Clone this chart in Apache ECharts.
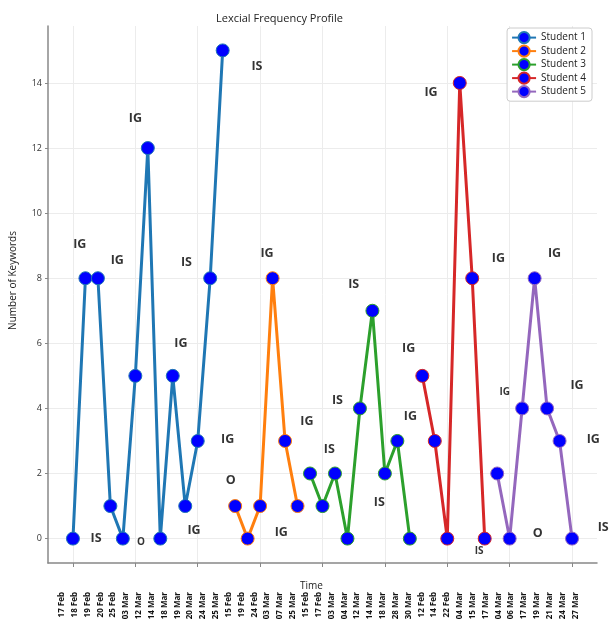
<!DOCTYPE html>
<html>
<head>
<meta charset="utf-8">
<script src="https://cdn.jsdelivr.net/npm/echarts@6/dist/echarts.min.js"></script>
<style>html,body{margin:0;padding:0;background:#fff}#c{width:609px;height:623px}</style>
</head>
<body>
<div id="c"></div>
<script>
// ---- data ----
const dateLabels = [
  '17 Feb','18 Feb','19 Feb','20 Feb','25 Feb','03 Mar','12 Mar','14 Mar','18 Mar','19 Mar','20 Mar','24 Mar','25 Mar',
  '15 Feb','19 Feb','24 Feb','03 Mar','07 Mar','25 Mar',
  '15 Feb','17 Feb','03 Mar','04 Mar','12 Mar','14 Mar','18 Mar','28 Mar','30 Mar',
  '12 Feb','14 Feb','22 Feb','04 Mar','15 Mar','17 Mar',
  '04 Mar','06 Mar','17 Mar','19 Mar','21 Mar','24 Mar','27 Mar'
];
const studentNames = ['Student 1','Student 2','Student 3','Student 4','Student 5'];
const student1 = [0, 8, 8, 1, 0, 5, 12, 0, 5, 1, 3, 8, 15];
const student2 = [1, 0, 1, 8, 3, 1];
const student3 = [2, 1, 2, 0, 4, 7, 2, 3, 0];
const student4 = [5, 3, 0, 14, 8, 0];
const student5 = [2, 0, 4, 8, 4, 3, 0];
const yTicks = [0, 2, 4, 6, 8, 10, 12, 14];
const xTicks = [0, 5, 10, 15, 20, 25, 30, 35, 40];

const annotText = ['IG','IG','IG','IS','IS','IG','IG','IG','O','IS','O','IG','IG',
  'IS','IG','IS','IG','IG','IS','IS',
  'IG','IG','IG','IG','IG','IG','O','IS','IS'];
const annotX = [0.55, 3.55, 5.0, 9.1, 14.75, 15.55, 8.65, 12.4, 12.65, 1.85, 5.45, 9.7, 16.7,
  22.5, 26.9, 21.2, 18.75, 27.05, 20.55, 24.55,
  28.7, 34.1, 38.6, 34.6, 40.4, 41.7, 37.25, 42.5, 32.55];
const annotY = [9.05, 8.55, 12.9, 8.5, 14.5, 8.75, 6.0, 3.05, 1.8, 0.0, -0.1, 0.25, 0.2,
  7.8, 5.85, 4.25, 3.6, 3.75, 2.75, 1.1,
  13.7, 8.6, 8.75, 4.5, 4.7, 3.05, 0.15, 0.35, -0.4];
const smallAnnot = [10, 23, 28]; // indices drawn in a smaller font

// ---- build ----
const colors = ['#1f77b4', '#ff7f0e', '#2ca02c', '#d62728', '#9467bd'];
const allStudents = [student1, student2, student3, student4, student5];
let offset = 0;
const lineSeries = allStudents.map((vals, si) => {
  const d = vals.map((v, i) => [offset + i, v]);
  offset += vals.length;
  return {
    name: studentNames[si],
    type: 'line',
    xAxisIndex: 0, yAxisIndex: 0,
    data: d,
    symbol: 'circle',
    symbolSize: 13,
    z: 3,
    lineStyle: { color: colors[si], width: 3 },
    itemStyle: { color: '#0000ff', borderColor: colors[si], borderWidth: 1 },
    emphasis: { disabled: true },
    animation: false
  };
});

const annotData = annotText.map((t, i) => {
  const item = { value: [annotX[i], annotY[i]], name: t };
  if (smallAnnot.includes(i)) item.label = { fontSize: 10 };
  return item;
});

const font = 'Open Sans';
const option = {
  animation: false,
  backgroundColor: '#fff',
  title: {
    text: 'Lexcial Frequency Profile',
    left: 211, top: 8,
    textStyle: { fontFamily: font, fontSize: 11, fontWeight: 'normal', color: '#222' }
  },
  legend: {
    orient: 'vertical',
    right: 17, top: 28,
    data: studentNames,
    itemWidth: 24, itemHeight: 14, itemGap: 0.3,
    padding: [3, 6, 3, 4],
    borderColor: '#ccc', borderWidth: 1, borderRadius: 3,
    backgroundColor: '#fff',
    textStyle: { fontFamily: font, fontSize: 10, color: '#222' }
  },
  grid: [
    { left: 45, right: 12, top: 26, bottom: 60, containLabel: false },
    { left: 55.3, width: 526.5, top: 575, height: 10, containLabel: false }
  ],
  xAxis: [
    {
      type: 'value', gridIndex: 0, min: -2, max: 42,
      name: 'Time', nameLocation: 'middle', nameGap: 18,
      nameTextStyle: { fontFamily: font, fontSize: 10, color: '#222', padding: [0, 22, 0, 0] },
      axisLine: { show: true, onZero: false, lineStyle: { color: '#888', width: 1.5 } },
      axisTick: { show: true, length: 4, customValues: xTicks, lineStyle: { color: '#888' } },
      axisLabel: { show: false, customValues: xTicks },
      splitLine: { show: true, lineStyle: { color: '#ececec', width: 1 } }
    },
    {
      type: 'category', gridIndex: 1, data: dateLabels, position: 'bottom',
      axisLine: { show: false }, axisTick: { show: false },
      axisLabel: { interval: 0, rotate: 90, margin: 7, fontFamily: font, fontSize: 8, fontWeight: 'bold', color: '#111' },
      splitLine: { show: false }
    }
  ],
  yAxis: [
    {
      type: 'value', gridIndex: 0, min: -0.75, max: 15.75,
      name: 'Number of Keywords', nameLocation: 'middle', nameGap: 30,
      nameTextStyle: { fontFamily: font, fontSize: 10, color: '#222', padding: [0, 0, 0, 28] },
      axisLine: { show: true, onZero: false, lineStyle: { color: '#888', width: 1.5 } },
      axisTick: { show: true, length: 3, customValues: yTicks, lineStyle: { color: '#888' } },
      axisLabel: { customValues: yTicks, fontFamily: font, fontSize: 9, color: '#333', margin: 6 },
      splitLine: { show: true, lineStyle: { color: '#ececec', width: 1 } }
    },
    { type: 'value', gridIndex: 1, show: false }
  ],
  series: lineSeries.concat([{
    name: 'annotations',
    type: 'scatter',
    xAxisIndex: 0, yAxisIndex: 0,
    data: annotData,
    symbolSize: 1,
    clip: false,
    z: 4,
    itemStyle: { color: 'rgba(0,0,0,0)' },
    label: {
      show: true, position: 'inside',
      formatter: p => p.name,
      fontFamily: font, fontSize: 12.5, fontWeight: 'bold', color: '#000'
    },
    emphasis: { disabled: true },
    silent: true
  }])
};
const chart = echarts.init(document.getElementById('c'), null, { renderer: 'canvas' });
chart.setOption(option);
</script>
</body>
</html>
